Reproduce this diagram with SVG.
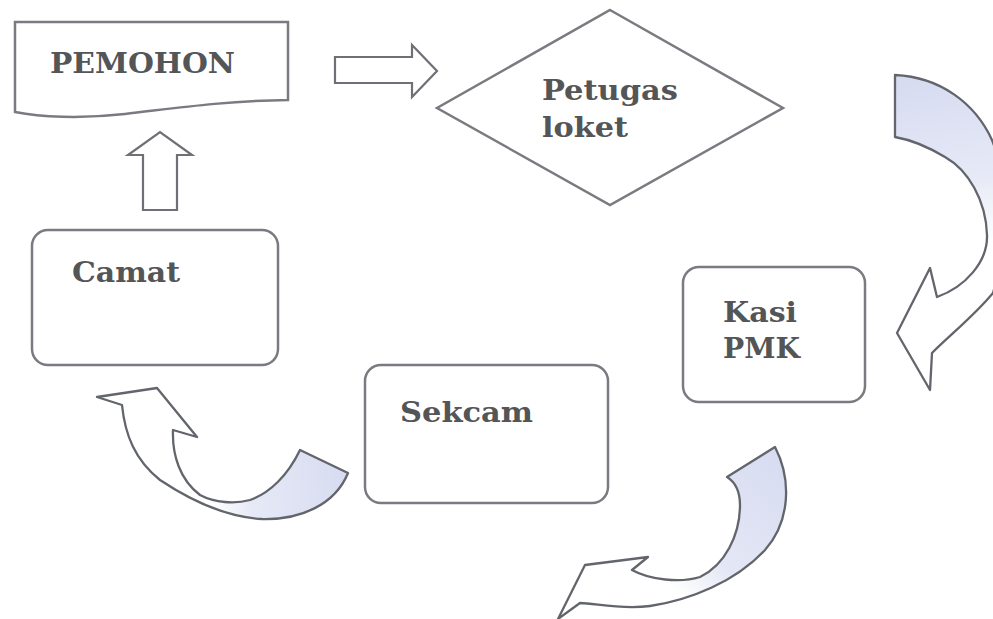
<svg xmlns="http://www.w3.org/2000/svg" width="993" height="619" viewBox="0 0 993 619">
  <defs>
    <style>
      .box { fill: #ffffff; stroke: #7a7b80; stroke-width: 2.5; }
      .lbl { font-family: "DejaVu Serif", "Liberation Serif", serif; font-weight: bold; font-size: 27px; fill: #545557; }
      .blk { fill: #ffffff; stroke: #6e7075; stroke-width: 2.2; stroke-linejoin: miter; }
      .crv { stroke: #62656b; stroke-width: 2.3; stroke-linejoin: round; }
    </style>
    <linearGradient id="gTR" gradientUnits="userSpaceOnUse" x1="930" y1="80" x2="965" y2="250">
      <stop offset="0" stop-color="#d8dcf1"/>
      <stop offset="0.6" stop-color="#e6e9f6"/>
      <stop offset="1" stop-color="#ffffff"/>
    </linearGradient>
    <linearGradient id="gBR" gradientUnits="userSpaceOnUse" x1="775" y1="450" x2="640" y2="600">
      <stop offset="0" stop-color="#d8dcf1"/>
      <stop offset="0.6" stop-color="#e4e7f5"/>
      <stop offset="0.85" stop-color="#ffffff"/>
    </linearGradient>
    <linearGradient id="gBL" gradientUnits="userSpaceOnUse" x1="345" y1="470" x2="185" y2="490">
      <stop offset="0" stop-color="#d8dcf1"/>
      <stop offset="0.6" stop-color="#e6e9f6"/>
      <stop offset="0.85" stop-color="#ffffff"/>
    </linearGradient>
  </defs>
  <rect width="993" height="619" fill="#ffffff"/>

  <g id="connectors">
    <path class="blk" d="M335,57 H412 V45 L437,71 L412,97 V83 H335 Z"/>
    <path class="blk" d="M143,210 V155 H128 L160,132 L192,155 H177 V210 Z"/>
    <path class="crv" fill="url(#gTR)" d="M895,75 C940,77 975,103 992,140 C1006,175 1008,240 993,293 C975,315 950,335 932,353 L930,390 L897,333 L930,268 L937,297 C965,287 988,262 987,235 C986,200 968,170 945,157 C930,148 912,140 895,137 Z"/>
    <path class="crv" fill="url(#gBR)" d="M727,477 L775,447 C792,480 790,522 765,550 C735,582 690,600 650,606 C620,610 595,603 580,603 L558,619 L585,565 L648,557 L632,570 C650,580 680,583 700,577 C725,565 740,535 740,505 C740,490 735,482 727,477 Z"/>
    <path class="crv" fill="url(#gBL)" d="M348,473 C335,505 300,520 262,519 C225,517 190,500 160,480 C135,460 125,435 122,405 L97,397 L157,388 L197,437 L173,430 C172,455 180,480 200,495 C215,503 235,504 250,500 C270,493 288,475 300,450 Z"/>
  </g>

  <g id="pemohon">
    <path class="box" d="M15,22 H288 V100 C220,101 170,109 125,114 C80,119 40,117 15,112 Z"/>
    <text class="lbl" x="50" y="73" textLength="185" lengthAdjust="spacingAndGlyphs">PEMOHON</text>
  </g>

  <g id="petugas-loket">
    <path class="box" d="M610,10 L783,108 L610,205 L437,108 Z"/>
    <text class="lbl" x="542" y="100" textLength="136" lengthAdjust="spacingAndGlyphs">Petugas</text>
    <text class="lbl" x="542" y="137" textLength="86" lengthAdjust="spacingAndGlyphs">loket</text>
  </g>

  <g id="kasi-pmk">
    <rect class="box" x="683" y="267" width="182" height="135" rx="16"/>
    <text class="lbl" x="723" y="322" textLength="74" lengthAdjust="spacingAndGlyphs">Kasi</text>
    <text class="lbl" x="723" y="358" textLength="77" lengthAdjust="spacingAndGlyphs">PMK</text>
  </g>

  <g id="sekcam">
    <rect class="box" x="365" y="365" width="243" height="138" rx="16"/>
    <text class="lbl" x="400" y="422" textLength="133" lengthAdjust="spacingAndGlyphs">Sekcam</text>
  </g>

  <g id="camat">
    <rect class="box" x="32" y="230" width="246" height="135" rx="16"/>
    <text class="lbl" x="72" y="282" textLength="108" lengthAdjust="spacingAndGlyphs">Camat</text>
  </g>
</svg>
